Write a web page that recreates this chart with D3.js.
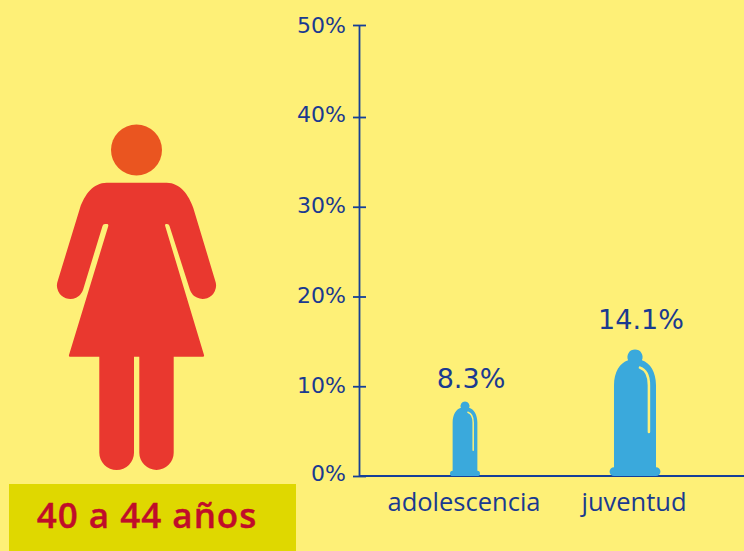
<html>
<head>
  <meta charset="utf-8">
  <script src="https://d3js.org/d3.v7.min.js"></script>
  <style>
    body { margin: 0; background: #fef077; }
    svg { display: block; }
    text { font-family: "Open Sans", sans-serif; }
    .axis .domain, .axis line { stroke: #153f98; stroke-width: 1.8; }
    .axis text { fill: #1a3a90; }
  </style>
</head>
<body>
<svg id="chart" width="744" height="551"></svg>
<script>
  const categories = ["adolescencia", "juventud"];
  const values = [8.3, 14.1];
  const valueLabels = ["8.3%", "14.1%"];
  const yTicks = [0, 10, 20, 30, 40, 50];
  const ageLabel = "40 a 44 años";

  const bg = "#fef077";
  const svg = d3.select("svg#chart");

  // y ticks in the picture are not quite even above 40%
  const yScale = d3.scaleLinear().domain([0, 40, 50]).range([476, 117, 25]);
  const xScale = d3.scaleBand().domain(categories).range([380, 720]);

  // ---- axes
  const leftAxis = d3.axisLeft(yScale)
    .tickValues(yTicks)
    .tickSize(6)
    .tickSizeOuter(0)
    .tickFormat(d => d + "%");
  const gLeft = svg.append("g").attr("class", "axis")
    .attr("transform", "translate(359,0)")
    .call(leftAxis);
  gLeft.selectAll(".tick line").attr("x1", -6).attr("x2", 7);
  // the tick labels sit a little above their ticks, most at both ends
  const labelNudge = d => (d === 0 || d === 40) ? -3 : (d === 50 ? 0 : -1);
  gLeft.selectAll(".tick text")
    .attr("x", -13)
    .attr("y", labelNudge)
    .style("font-family", "'DejaVu Sans'")
    .attr("font-size", 22);

  const bottomAxis = d3.axisBottom(xScale).tickSize(0);
  const gBottom = svg.append("g").attr("class", "axis")
    .attr("transform", "translate(0,476)")
    .call(bottomAxis);
  gBottom.select(".domain").attr("d", "M359,0H744");
  gBottom.selectAll(".tick text")
    .attr("x", -1)
    .attr("y", 17)
    .attr("font-size", 25.5);

  // ---- condom shaped bars, path is for a height of 1 and flipped by the transform
  const bodyPath = "M-.0545,.915 A.06,.06 0 1 0 .0545,.915 C.12,.895 .166,.82 .166,.718 L.166,.07"
    + " A.035,.035 0 0 0 .166,0 L-.166,0 A.035,.035 0 0 0 -.166,.07"
    + " L-.166,.718 C-.166,.82 -.12,.895 -.0545,.915 Z";
  const shinePath = "M.039,.856 C.085,.84 .11,.79 .11,.718 L.11,.347";

  const bars = svg.selectAll("g.bar").data(categories)
    .join("g")
    .attr("class", "bar")
    .attr("transform", (d, i) => {
      const h = yScale(0) - yScale(values[i]);
      return "translate(" + (xScale(d) + xScale.bandwidth() / 2) + "," + yScale(0) + ") scale(" + h + "," + (-h) + ")";
    });
  bars.append("path").attr("d", bodyPath).attr("fill", "#3aa9dc");
  bars.append("path").attr("d", shinePath)
    .attr("fill", "none")
    .attr("stroke", bg)
    .attr("stroke-width", 0.02)
    .attr("stroke-linecap", "round");

  const labelGaps = [14, 20];
  svg.selectAll("text.value").data(categories)
    .join("text")
    .attr("class", "value")
    .attr("x", d => xScale(d) + xScale.bandwidth() / 2 + 6)
    .attr("y", (d, i) => yScale(values[i]) - labelGaps[i])
    .attr("text-anchor", "middle")
    .style("font-family", "'DejaVu Sans'")
    .attr("font-size", 27)
    .attr("fill", "#1a3a90")
    .text((d, i) => valueLabels[i]);

  // ---- woman pictogram
  const person = svg.append("g");
  person.append("circle")
    .attr("cx", 136.5).attr("cy", 150).attr("r", 25.5)
    .attr("fill", "#ea5520");
  person.append("path")
    .attr("fill", "#e9382f")
    .attr("d", "M106.7,182.7 L166.7,182.7 C180,182.7 189,195 193.3,208 L215.3,281"
      + " A13,13 0 0 1 190,290 L169.5,226 Q169,224 167,224 L166,224 Q164.8,224 165.2,226"
      + " L204,355 Q204.4,356.8 203,356.8 L173.7,356.8 L173.7,452.7 A17.2,17.2 0 0 1 139.3,452.7"
      + " L139.3,356.8 L134,356.8 L134,452.7 A17.3,17.3 0 0 1 99.3,452.7 L99.3,356.8"
      + " L70,356.8 Q68.6,356.8 69,355 L108.3,226 Q108.6,224 107,224 L105,224 Q103,224 102.5,226"
      + " L83,290 A13,13 0 0 1 57.7,281 L80,208 C84.5,195 93,182.7 106.7,182.7 Z");

  // ---- age box
  svg.append("rect")
    .attr("x", 9).attr("y", 484).attr("width", 287).attr("height", 67)
    .attr("fill", "#dfd800");
  svg.append("text")
    .attr("x", 147).attr("y", 528)
    .attr("text-anchor", "middle")
    .attr("font-size", 35)
    .attr("font-weight", 600)
    .attr("letter-spacing", 1)
    .attr("fill", "#c00d2a")
    .attr("stroke", "#c00d2a")
    .attr("stroke-width", 0.4)
    .text(ageLabel);
</script>
</body>
</html>
